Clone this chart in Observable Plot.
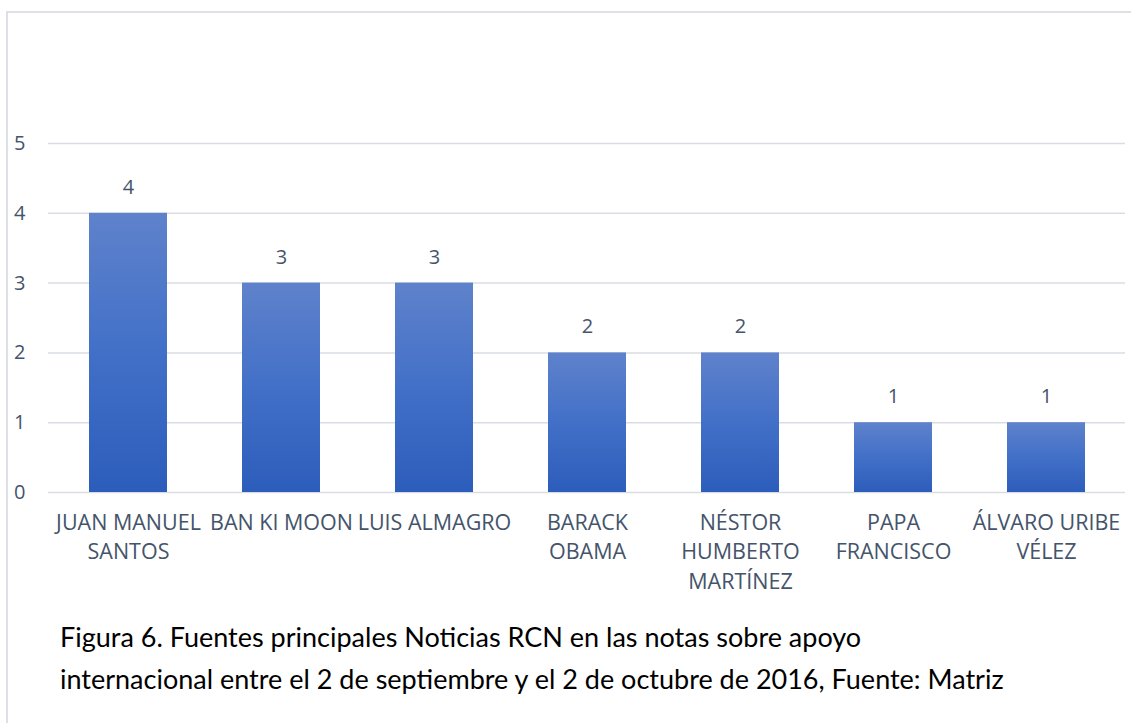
<!DOCTYPE html>
<html>
<head>
<meta charset="utf-8">
<script src="https://cdn.jsdelivr.net/npm/d3@7"></script>
<script src="https://cdn.jsdelivr.net/npm/@observablehq/plot@0.6"></script>
<style>
  html, body { margin: 0; padding: 0; background: #ffffff; }
  #wrap { position: relative; width: 1131px; height: 723px; overflow: hidden; background: #fff; }
  #borderTop { position: absolute; left: 6px; top: 11px; width: 1125px; height: 2px; background: #dde1e6; }
  #borderLeft { position: absolute; left: 6px; top: 11px; width: 2px; height: 712px; background: #dde1e6; }
  #chart { position: absolute; left: 0; top: 0; }
  #caption { position: absolute; left: 60px; top: 616px; font-family: Lato, "Open Sans", sans-serif; font-size: 27px; line-height: 42px; color: #000; white-space: nowrap; }
</style>
</head>
<body>
<div id="wrap">
  <div id="borderTop"></div>
  <div id="borderLeft"></div>
  <div id="chart"></div>
  <div id="caption">Figura 6. Fuentes principales Noticias RCN en las notas sobre apoyo<br>internacional entre el 2 de septiembre y el 2 de octubre de 2016, Fuente: Matriz</div>
</div>
<script>
const names = ["JUAN MANUEL SANTOS", "BAN KI MOON", "LUIS ALMAGRO", "BARACK OBAMA", "NÉSTOR HUMBERTO MARTÍNEZ", "PAPA FRANCISCO", "ÁLVARO URIBE VÉLEZ"];
const counts = [4, 3, 3, 2, 2, 1, 1];
const tickLabels = ["JUAN MANUEL\nSANTOS", "BAN KI MOON", "LUIS ALMAGRO", "BARACK\nOBAMA", "NÉSTOR\nHUMBERTO\nMARTÍNEZ", "PAPA\nFRANCISCO", "ÁLVARO URIBE\nVÉLEZ"];
const yTicks = [0, 1, 2, 3, 4, 5];

const data = names.map((n, i) => ({name: n, count: counts[i]}));
const textColor = "#44546a";

const chart = Plot.plot({
  width: 1131,
  height: 622,
  marginLeft: 48,
  marginRight: 6,
  marginTop: 143,
  marginBottom: 130,
  style: {fontFamily: "'Open Sans', sans-serif", fontSize: "20px", color: textColor, background: "transparent"},
  x: {domain: names, paddingInner: 0.493, paddingOuter: 0.2465, label: null},
  y: {domain: [0, 5], label: null},
  marks: [
    Plot.ruleY(yTicks, {stroke: "#d9dde3", strokeWidth: 1.5}),
    Plot.barY(data, {x: "name", y: "count", fill: "url(#barGrad)"}),
    Plot.text(data, {x: "name", y: "count", text: d => String(d.count), dy: -26, fill: textColor, fontSize: 20}),
    Plot.axisY({ticks: yTicks, tickFormat: d => String(d), tickSize: 0, tickPadding: 23, fontSize: 20, fill: textColor, label: null}),
    Plot.axisX({tickSize: 0, tickPadding: 16, fontSize: 21.5, lineHeight: 1.38, fill: textColor, label: null,
      tickFormat: d => tickLabels[names.indexOf(d)]})
  ]
});

const ns = "http://www.w3.org/2000/svg";
const defs = document.createElementNS(ns, "defs");
const grad = document.createElementNS(ns, "linearGradient");
grad.setAttribute("id", "barGrad");
grad.setAttribute("x1", "0"); grad.setAttribute("y1", "0");
grad.setAttribute("x2", "0"); grad.setAttribute("y2", "1");
[["0%", "#5f82cb"], ["50%", "#4270c8"], ["100%", "#2d5dbb"]].forEach(([o, c]) => {
  const s = document.createElementNS(ns, "stop");
  s.setAttribute("offset", o);
  s.setAttribute("stop-color", c);
  grad.appendChild(s);
});
defs.appendChild(grad);
chart.insertBefore(defs, chart.firstChild);

document.getElementById("chart").appendChild(chart);
</script>
</body>
</html>
